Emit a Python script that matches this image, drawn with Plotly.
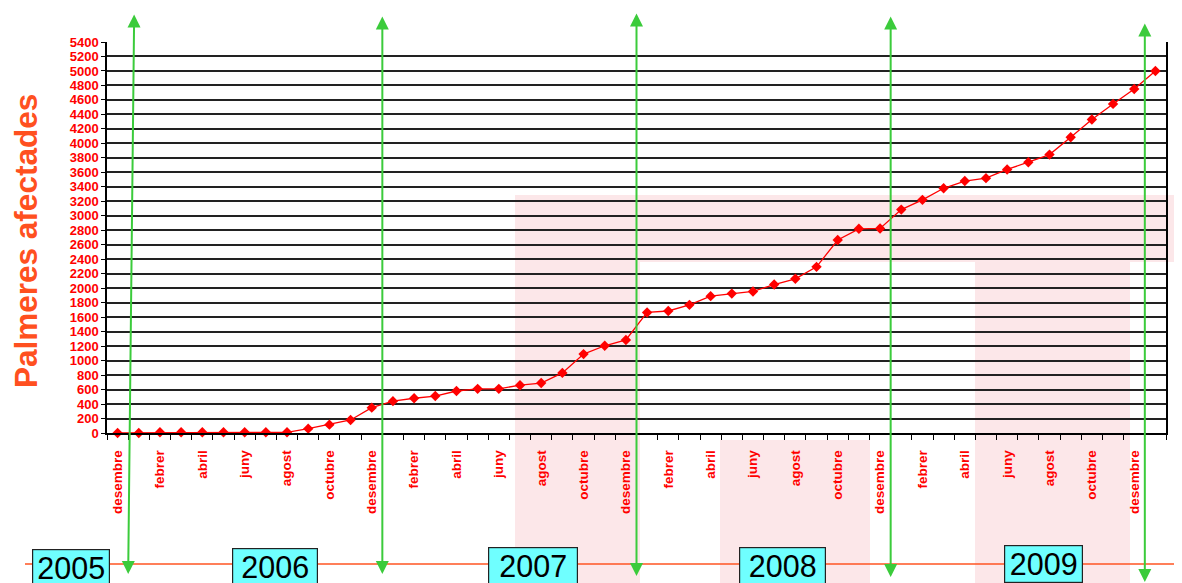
import plotly.graph_objects as go

# ---------------- data ----------------
months = ["desembre", "gener", "febrer", "març", "abril", "maig", "juny",
          "juliol", "agost", "setembre", "octubre", "novembre"]
# monthly categories from desembre 2005 to gener 2010 (50 points)
categories = ["desembre"] + months[1:] + ["desembre"] + months[1:] + ["desembre"] \
    + months[1:] + ["desembre"] + months[1:] + ["desembre", "gener"]
values = [0, 0, 10, 10, 10, 10, 10, 10, 10, 60, 115, 180, 350,
          440, 480, 510, 580, 610, 610, 660, 690, 830, 1090, 1205, 1285,
          1665, 1685, 1770, 1890, 1925, 1955, 2050, 2130, 2295, 2665, 2820, 2825,
          3085, 3220, 3380, 3480, 3520, 3640, 3740, 3845, 4085, 4330, 4545, 4750, 5000]
years = ["2005", "2006", "2007", "2008", "2009"]
y_title = "Palmeres afectades"

# ---------------- layout helpers ----------------
OFF = 8                      # page body margin
W, H = 1182 - OFF, 583 - OFF
PL, PR, PT, PB = 107, 1166, 42, 433   # plot area in page pixels
ML, MR, MT, MB = PL - OFF, 1182 - PR, PT - OFF, 583 - PB
PW, PH = PR - PL, PB - PT


def px(x):
    return (x - PL) / PW


def py(y):
    return (PB - y) / PH


xs = list(range(len(categories)))
fig = go.Figure()
fig.add_trace(go.Scatter(
    x=xs, y=values, mode="lines+markers",
    line=dict(color="#FF0000", width=1.3),
    marker=dict(symbol="diamond", size=8, color="#FF0000"),
    hoverinfo="skip", showlegend=False, cliponaxis=False))

tickvals = [i for i in xs if i % 2 == 0]
ticktext = [categories[i] for i in tickvals]

red = "#FF0000"
fig.update_xaxes(
    range=[-0.5, len(categories) - 0.5], tickmode="array",
    tickvals=tickvals, ticktext=ticktext, tickangle=-90, ticks="",
    ticklabelstandoff=10,
    tickfont=dict(family="Arial, Liberation Sans", size=13.5, color=red, weight="bold"),
    showgrid=False, zeroline=False, showline=True, linecolor="#000", linewidth=1.5,
    minor=dict(tickmode="array", tickvals=[i - 0.5 for i in range(len(categories) + 1)],
               ticks="outside", ticklen=5, tickcolor="#000", tickwidth=1.2, showgrid=False))
fig.update_yaxes(
    range=[0, 5400], dtick=200, tick0=0,
    tickfont=dict(family="Arial, Liberation Sans", size=13, color=red, weight="bold"),
    ticks="outside", ticklen=4, tickcolor="#000",
    showgrid=True, gridcolor="#222222", gridwidth=1.5,
    zeroline=False, showline=True, linecolor="#000", linewidth=1.5, mirror=True)

# faint pink watermark regions
pink = "rgba(238,120,135,0.18)"
for (x0, y0, x1, y1) in [(515, 195, 1182, 262), (515, 262, 640, 583),
                         (720, 440, 870, 583), (975, 262, 1130, 583)]:
    fig.add_shape(type="rect", xref="paper", yref="paper",
                  x0=px(x0), x1=px(x1), y0=py(y1), y1=py(y0),
                  fillcolor=pink, line=dict(width=0), layer="below")

# orange baseline
fig.add_shape(type="line", xref="paper", yref="paper",
              x0=px(25), x1=px(1182), y0=py(564), y1=py(564),
              line=dict(color="#FF5522", width=1.5), layer="above")

# green double-headed arrows at each desembre boundary
dec_idx = [i for i, c in enumerate(categories) if c == "desembre"]
arrow_top = [13, 15, 12, 15, 22]
arrow_bot = [574, 574, 576, 577, 584]
arrow_dx = [6, 0, 0, 0, 0]
for k, i in enumerate(dec_idx):
    fig.add_annotation(
        x=i + 0.5, y=py(arrow_bot[k]), xref="x", yref="paper",
        ax=arrow_dx[k], ay=-(arrow_bot[k] - arrow_top[k]), axref="pixel", ayref="pixel",
        text="", showarrow=True, arrowhead=2, startarrowhead=2, arrowside="end+start",
        arrowsize=1.3, startarrowsize=1.3, arrowwidth=2, arrowcolor="#3BCB3B",
        standoff=0, startstandoff=0)

# year boxes
box_cx = [71, 275, 533, 782, 1043]
box_cy = [568, 567, 566, 566, 564]
box_w = [79, 87, 91, 88, 80]
for k, yr in enumerate(years):
    fig.add_annotation(
        x=px(box_cx[k]), y=py(box_cy[k]), xref="paper", yref="paper",
        text=yr, showarrow=False, xanchor="center", yanchor="middle",
        font=dict(family="Arial, Liberation Sans", size=30.5, color="#000"),
        bgcolor="#6FFFFF", bordercolor="#222", borderwidth=1.2, borderpad=0,
        width=box_w[k] - 3, height=36)

# y title
fig.add_annotation(
    x=px(26), y=py(241), xref="paper", yref="paper", text=y_title,
    textangle=-90, showarrow=False, xanchor="center", yanchor="middle",
    font=dict(family="Arial, Liberation Sans", size=31.5, color="#FF5020", weight="bold"))

fig.update_layout(
    width=W, height=H, autosize=False,
    margin=dict(l=ML, r=MR, t=MT, b=MB, pad=0),
    paper_bgcolor="white", plot_bgcolor="rgba(0,0,0,0)",
    showlegend=False)

fig.write_html("out.html")
